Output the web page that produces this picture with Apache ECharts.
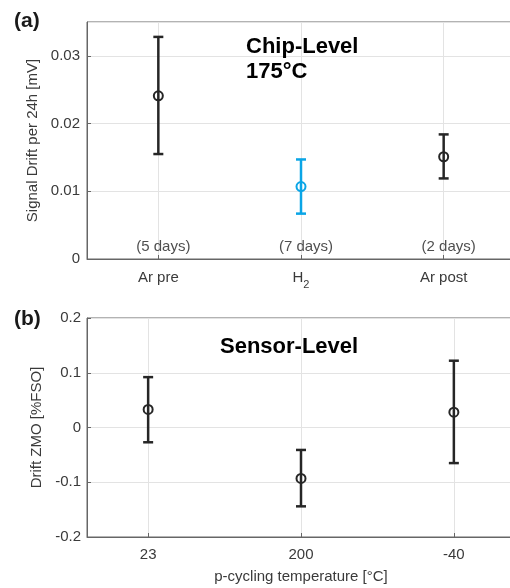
<!DOCTYPE html>
<html>
<head>
<meta charset="utf-8">
<script src="https://cdn.jsdelivr.net/npm/echarts@6.0.0/dist/echarts.min.js"></script>
<style>
  html, body { margin: 0; padding: 0; background: #fff; }
  #chart { width: 510px; height: 588px; }
</style>
</head>
<body>
<div id="chart"></div>
<script>
// Chip-level data (a)
var chipPos = [1, 2, 3];
var chipCats = ['Ar pre', 'H2', 'Ar post'];
var chipDays = ['(5 days)', '(7 days)', '(2 days)'];
var chipMean = [0.0241, 0.0107, 0.0151];
var chipLow = [0.0155, 0.0067, 0.0119];
var chipHigh = [0.0328, 0.0147, 0.0184];

// Sensor-level data (b)
var sensorPos = [1, 2, 3];
var sensorCats = ['23', '200', '-40'];
var sensorMean = [0.033, -0.093, 0.028];
var sensorLow = [-0.027, -0.144, -0.065];
var sensorHigh = [0.092, -0.041, 0.122];

var chipColors = ['#262626', '#0aa5e6', '#262626'];
var black = '#262626';
var font = '"Liberation Sans", Arial, sans-serif';

var chart = echarts.init(document.getElementById('chart'));

// error bar with caps
var errorBar = function (colors) {
    return function (params, api) {
        var x = api.value(0);
        var top = api.coord([x, api.value(2)]);
        var bot = api.coord([x, api.value(1)]);
        var c = colors[params.dataIndex];
        var style = { stroke: c, lineWidth: 2.5 };
        return {
            type: 'group',
            children: [
                { type: 'line', shape: { x1: top[0], y1: top[1], x2: bot[0], y2: bot[1] }, style: style },
                { type: 'line', shape: { x1: top[0] - 5, y1: top[1], x2: top[0] + 5, y2: top[1] }, style: style },
                { type: 'line', shape: { x1: bot[0] - 5, y1: bot[1], x2: bot[0] + 5, y2: bot[1] }, style: style }
            ]
        };
    };
};

var axisCommon = {
    axisLine: { show: true, onZero: false, lineStyle: { color: '#666', width: 1 } },
    axisTick: { show: true, inside: true, length: 4, lineStyle: { color: '#666' } },
    splitLine: { show: true, lineStyle: { color: '#e3e3e3', width: 1 } },
    axisLabel: { color: '#3a3a3a', fontSize: 15, fontFamily: font }
};

var chipTriples = chipPos.map(function (p, i) { return [p, chipLow[i], chipHigh[i]]; });
var sensorTriples = sensorPos.map(function (p, i) { return [p, sensorLow[i], sensorHigh[i]]; });

chart.setOption({
    animation: false,
    textStyle: { fontFamily: font },
    title: [
        { text: '(a)', left: 14, top: 11, padding: 0, textStyle: { fontSize: 21, fontWeight: 'bold', color: '#1a1a1a', fontFamily: font } },
        { text: '(b)', left: 14, top: 309, padding: 0, textStyle: { fontSize: 21, fontWeight: 'bold', color: '#1a1a1a', fontFamily: font } },
        { text: 'Chip-Level\n175°C', left: 246, top: 34, padding: 0, textStyle: { fontSize: 22, lineHeight: 25, fontWeight: 'bold', color: '#000', fontFamily: font } },
        { text: 'Sensor-Level', left: 220, top: 336, padding: 0, textStyle: { fontSize: 22, fontWeight: 'bold', color: '#000', fontFamily: font } }
    ],
    grid: [
        { left: 87, top: 22, width: 428, height: 237, outerBoundsMode: 'none', show: true, borderColor: '#666', borderWidth: 1, backgroundColor: 'transparent' },
        { left: 87, top: 318, width: 428, height: 219, outerBoundsMode: 'none', show: true, borderColor: '#666', borderWidth: 1, backgroundColor: 'transparent' }
    ],
    xAxis: [
        Object.assign({}, axisCommon, {
            gridIndex: 0, type: 'value', min: 0.5, max: 3.5,
            axisTick: Object.assign({}, axisCommon.axisTick, { customValues: chipPos }),
            axisLabel: Object.assign({}, axisCommon.axisLabel, {
                customValues: chipPos,
                margin: 7,
                lineHeight: 24,
                formatter: function (v) {
                    var name = chipCats[chipPos.indexOf(v)];
                    return name === 'H2' ? 'H{s|2}' : name;
                },
                rich: { s: { fontSize: 11, lineHeight: 11, padding: [13, 0, 0, 0], color: '#3a3a3a' } }
            })
        }),
        Object.assign({}, axisCommon, {
            gridIndex: 1, type: 'value', min: 0.6, max: 3.4,
            name: 'p-cycling temperature [°C]', nameLocation: 'middle', nameGap: 32,
            nameTextStyle: { color: '#3a3a3a', fontSize: 15, fontFamily: font },
            axisTick: Object.assign({}, axisCommon.axisTick, { customValues: sensorPos }),
            axisLabel: Object.assign({}, axisCommon.axisLabel, {
                customValues: sensorPos,
                margin: 10,
                formatter: function (v) { return sensorCats[sensorPos.indexOf(v)]; }
            })
        })
    ],
    yAxis: [
        Object.assign({}, axisCommon, {
            gridIndex: 0, type: 'value', min: 0, max: 0.035, interval: 0.01,
            name: 'Signal Drift per 24h [mV]', nameLocation: 'middle', nameGap: 38,
            nameTextStyle: { color: '#3a3a3a', fontSize: 15, fontFamily: font },
            axisLabel: Object.assign({}, axisCommon.axisLabel, { margin: 7, showMaxLabel: false })
        }),
        Object.assign({}, axisCommon, {
            gridIndex: 1, type: 'value', min: -0.2, max: 0.2, interval: 0.1,
            name: 'Drift ZMO [%FSO]', nameLocation: 'middle', nameGap: 36,
            nameTextStyle: { color: '#3a3a3a', fontSize: 15, fontFamily: font },
            axisLabel: Object.assign({}, axisCommon.axisLabel, { margin: 6 })
        })
    ],
    series: [
        {
            type: 'custom', xAxisIndex: 0, yAxisIndex: 0,
            renderItem: errorBar(chipColors),
            data: chipTriples, z: 3
        },
        {
            type: 'scatter', xAxisIndex: 0, yAxisIndex: 0,
            symbol: 'circle', symbolSize: 9,
            itemStyle: { color: 'transparent', borderWidth: 2, opacity: 1 },
            data: chipPos.map(function (p, i) {
                return { value: [p, chipMean[i]], itemStyle: { borderColor: chipColors[i] } };
            }),
            z: 4
        },
        {
            type: 'scatter', xAxisIndex: 0, yAxisIndex: 0,
            symbolSize: 0, silent: true,
            label: {
                show: true, position: 'top', distance: 5, offset: [5, 0],
                color: '#222', fontSize: 15, fontFamily: font,
                formatter: function (p) { return chipDays[p.dataIndex]; }
            },
            data: chipPos.map(function (p) { return [p, 0]; }),
            z: 5
        },
        {
            type: 'custom', xAxisIndex: 1, yAxisIndex: 1,
            renderItem: errorBar([black, black, black]),
            data: sensorTriples, z: 3
        },
        {
            type: 'scatter', xAxisIndex: 1, yAxisIndex: 1,
            symbol: 'circle', symbolSize: 9,
            itemStyle: { color: 'transparent', borderWidth: 2, borderColor: black, opacity: 1 },
            data: sensorPos.map(function (p, i) { return [p, sensorMean[i]]; }),
            z: 4
        }
    ]
});
</script>
</body>
</html>
